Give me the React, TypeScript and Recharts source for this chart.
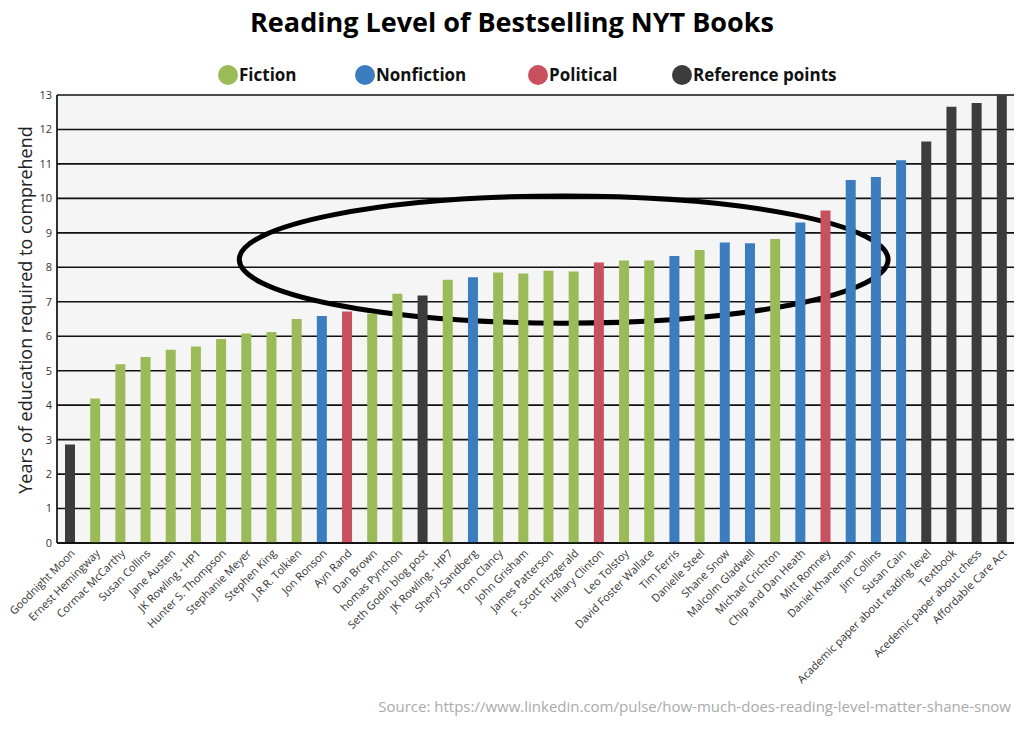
import React from 'react';
import { BarChart, Bar, XAxis, YAxis, CartesianGrid, Cell, ReferenceArea } from 'recharts';

const books = [
  'Goodnight Moon', 'Ernest Hemingway', 'Cormac McCarthy', 'Susan Collins', 'Jane Austen',
  'JK Rowling - HP1', 'Hunter S. Thompson', 'Stephanie Meyer', 'Stephen King', 'J.R.R. Tolkien',
  'Jon Ronson', 'Ayn Rand', 'Dan Brown', 'homas Pynchon', 'Seth Godin blog post',
  'JK Rowling - HP7', 'Sheryl Sandberg', 'Tom Clancy', 'John Grisham', 'James Patterson',
  'F. Scott Fitzgerald', 'Hilary Clinton', 'Leo Tolstoy', 'David Foster Wallace', 'Tim Ferris',
  'Danielle Steel', 'Shane Snow', 'Malcolm Gladwell', 'Michael Crichton', 'Chip and Dan Heath',
  'Mitt Romney', 'Daniel Khaneman', 'Jim Collins', 'Susan Cain', 'Academic paper about reading level',
  'Textbook', 'Acedemic paper about chess', 'Affordable Care Act',
];

const levels = [
  2.86, 4.19, 5.19, 5.4, 5.61, 5.7, 5.92, 6.08, 6.12, 6.5,
  6.59, 6.72, 6.65, 7.23, 7.18, 7.64, 7.71, 7.85, 7.82, 7.9,
  7.88, 8.14, 8.2, 8.2, 8.33, 8.5, 8.72, 8.7, 8.82, 9.3,
  9.65, 10.53, 10.62, 11.11, 11.65, 12.66, 12.77, 13.0,
];

const kinds = [
  'ref', 'fic', 'fic', 'fic', 'fic', 'fic', 'fic', 'fic', 'fic', 'fic',
  'non', 'pol', 'fic', 'fic', 'ref', 'fic', 'non', 'fic', 'fic', 'fic',
  'fic', 'pol', 'fic', 'fic', 'non', 'fic', 'non', 'non', 'fic', 'non',
  'pol', 'non', 'non', 'non', 'ref', 'ref', 'ref', 'ref',
];

const yTicks = [0, 1, 2, 3, 4, 5, 6, 7, 8, 9, 10, 11, 12, 13];

const legendItems = [
  { key: 'fic', label: 'Fiction' },
  { key: 'non', label: 'Nonfiction' },
  { key: 'pol', label: 'Political' },
  { key: 'ref', label: 'Reference points' },
];

const colors: Record<string, string> = {
  fic: '#9bbb59',
  non: '#3b7dbf',
  pol: '#c9515f',
  ref: '#3c3c3c',
};

const data = books.map((name, i) => ({ name, level: levels[i], kind: kinds[i] }));

const font = '"Open Sans", sans-serif';

// where each legend entry starts, left edge of its dot
const legendLeft = [218, 355, 528, 672];

const BookTick = (props: any) => {
  const { x, y, payload } = props;
  return (
    <g transform={`translate(${x + 6},${y + 9})`}>
      <text textAnchor="end" transform="rotate(-45)" fontSize={11} fill="#333" fontFamily={font}>
        {payload.value}
      </text>
    </g>
  );
};

// hand-drawn looking ring around the middle group of books
const EllipseShape = (props: any) => {
  const { x, y, width, height } = props;
  return (
    <ellipse
      cx={x + width / 2 + 3}
      cy={y + height / 2}
      rx={width / 2 - 3}
      ry={height / 2}
      fill="none"
      stroke="#000"
      strokeWidth={5}
    />
  );
};

const AxisTitle = (props: any) => {
  const { viewBox } = props;
  const cy = viewBox.y + viewBox.height / 2 - 9;
  return (
    <text
      x={25}
      y={cy}
      transform={`rotate(-90 25 ${cy})`}
      textAnchor="middle"
      dominantBaseline="central"
      fontSize={18}
      fill="#222"
      fontFamily={font}
    >
      Years of education required to comprehend
    </text>
  );
};

export default function App() {
  return (
    <div style={{ position: 'absolute', left: 0, top: 0, width: 1024, height: 734, background: '#fff', fontFamily: font }}>
      <div style={{ position: 'absolute', top: 3, left: 0, width: 1024, textAlign: 'center', fontSize: 27, fontWeight: 700, color: '#000' }}>
        Reading Level of Bestselling NYT Books
      </div>
      {legendItems.map((item, i) => (
        <div
          key={item.key}
          style={{ position: 'absolute', top: 63, left: legendLeft[i], display: 'flex', alignItems: 'center' }}
        >
          <span style={{ width: 20, height: 20, borderRadius: 10, background: colors[item.key], display: 'inline-block' }} />
          <span style={{ fontSize: 17, fontWeight: 700, color: '#111', marginLeft: 1 }}>{item.label}</span>
        </div>
      ))}
      <BarChart
        width={1024}
        height={734}
        data={data}
        margin={{ top: 95, right: 10, bottom: 0, left: 0 }}
      >
        <CartesianGrid vertical={false} stroke="#111" strokeWidth={1.6} fill="#f5f5f5" />
        <XAxis
          dataKey="name"
          interval={0}
          tick={<BookTick />}
          tickLine={false}
          tickSize={0}
          axisLine={{ stroke: '#000', strokeWidth: 1.6 }}
          height={191}
        />
        <YAxis
          domain={[0, 13]}
          ticks={yTicks}
          width={57}
          tickLine={false}
          tickSize={0}
          tickMargin={5}
          axisLine={{ stroke: '#000', strokeWidth: 1.6 }}
          tick={{ fontSize: 11, fill: '#333', fontFamily: font }}
          label={<AxisTitle />}
        />
        <YAxis
          yAxisId="right"
          orientation="right"
          domain={[0, 13]}
          width={0}
          tick={false}
          tickLine={false}
          axisLine={{ stroke: '#555', strokeWidth: 1.5 }}
        />
        <Bar dataKey="level" barSize={10} isAnimationActive={false}>
          {data.map((d, i) => (
            <Cell key={`cell-${i}`} fill={colors[d.kind]} />
          ))}
        </Bar>
        <ReferenceArea
          x1="Stephanie Meyer"
          x2="Jim Collins"
          y1={6.38}
          y2={10.07}
          shape={<EllipseShape />}
        />
      </BarChart>
      <div style={{ position: 'absolute', top: 696, right: 13, fontSize: 15, color: '#aaa' }}>
        Source: https://www.linkedin.com/pulse/how-much-does-reading-level-matter-shane-snow
      </div>
    </div>
  );
}
